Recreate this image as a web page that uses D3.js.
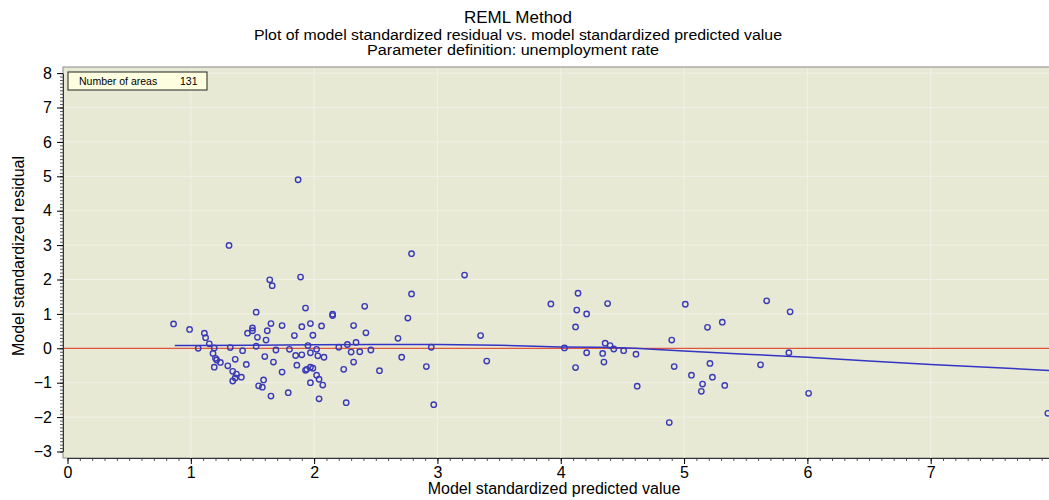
<!DOCTYPE html>
<html>
<head>
<meta charset="utf-8">
<script src="https://cdn.jsdelivr.net/npm/d3@7"></script>
<style>
	body { margin: 0; background: #ffffff; }
	text { font-family: "Liberation Sans", Arial, sans-serif; }
</style>
</head>
<body>
<script>
// model standardized predicted value (x) and residual (y), one per area
var predicted = [0.86, 0.99, 1.11, 1.12, 1.15, 1.06, 1.19, 1.18, 1.20, 1.21,
	1.24, 1.19, 1.30, 1.34, 1.37, 1.41, 1.36, 1.34, 1.32, 1.36,
	1.42, 1.45, 1.46, 1.50, 1.50, 1.53, 1.64, 1.66, 1.89, 1.54,
	1.53, 1.65, 1.62, 1.61, 1.60, 1.69, 1.67, 1.59, 1.55, 1.58,
	1.65, 1.74, 1.79, 1.74, 1.80, 1.84, 1.93, 1.90, 1.97, 1.99,
	2.06, 1.95, 2.02, 1.97, 2.03, 2.08, 1.85, 1.90, 1.86, 1.93,
	1.94, 1.97, 1.99, 2.02, 2.04, 1.97, 2.07, 2.04, 2.15, 2.15,
	2.20, 2.27, 2.24, 2.26, 2.41, 2.32, 2.42, 2.68, 2.34, 2.30,
	2.37, 2.46, 2.32, 2.53, 2.71, 2.76, 2.79, 3.22, 2.79, 2.95,
	2.91, 2.97, 3.35, 3.40, 1.87, 1.31, 3.92, 4.14, 4.13, 4.21,
	4.38, 4.12, 4.03, 4.21, 4.12, 4.36, 4.40, 4.43, 4.51, 4.34,
	4.35, 4.61, 4.62, 4.88, 4.90, 4.92, 5.01, 5.06, 5.15, 5.14,
	5.19, 5.21, 5.23, 5.31, 5.33, 5.62, 5.67, 5.86, 5.85, 6.01,
	7.95];

var residual = [0.71, 0.55, 0.44, 0.31, 0.13, 0.00, 0.01, -0.15, -0.29, -0.34,
	-0.41, -0.55, -0.51, -0.67, -0.75, -0.84, -0.86, -0.95, 0.02, -0.32,
	-0.07, -0.47, 0.44, 0.59, 0.51, 1.05, 1.99, 1.82, 2.07, 0.32,
	0.06, 0.72, 0.51, 0.24, -0.24, -0.05, -0.40, -0.92, -1.09, -1.13,
	-1.39, -0.69, -1.29, 0.66, -0.03, 0.37, 1.17, 0.63, 0.72, 0.38,
	0.65, 0.08, -0.03, -0.13, -0.22, -0.26, -0.21, -0.19, -0.49, -0.64,
	-0.61, -0.55, -0.58, -0.78, -0.90, -1.00, -1.07, -1.47, 0.99, 0.95,
	0.03, 0.11, -0.61, -1.58, 1.22, 0.66, 0.45, 0.29, 0.17, -0.11,
	-0.10, -0.05, -0.40, -0.65, -0.26, 0.88, 2.75, 2.13, 1.58, 0.03,
	-0.53, -1.64, 0.37, -0.37, 4.90, 2.99, 1.29, 1.60, 1.11, 1.00,
	1.30, 0.62, 0.01, -0.13, -0.56, 0.15, 0.08, -0.02, -0.07, -0.15,
	-0.40, -0.17, -1.10, -2.16, 0.24, -0.53, 1.28, -0.78, -1.04, -1.25,
	0.61, -0.44, -0.84, 0.76, -1.08, -0.48, 1.38, 1.06, -0.13, -1.31,
	-1.89];

// smoothed trend line
var fitX = [0.87, 1.0, 1.5, 2.0, 2.5, 3.0, 3.5, 4.0, 4.3, 4.4, 4.6, 5.0, 5.5, 6.0, 6.5, 7.0, 7.5, 8.0];
var fitY = [0.08, 0.08, 0.09, 0.10, 0.11, 0.11, 0.09, 0.04, 0.03, 0.02, 0.0, -0.08, -0.17, -0.26, -0.37, -0.47, -0.56, -0.65];

var xTicks = [0, 1, 2, 3, 4, 5, 6, 7, 8];
var xLabels = [0, 1, 2, 3, 4, 5, 6, 7];
var yTicks = [-3, -2, -1, 0, 1, 2, 3, 4, 5, 6, 7, 8];

var titles = ["REML Method",
	"Plot of model standardized residual vs. model standardized predicted value",
	"Parameter definition: unemployment rate"];

function main(){
	var w = 1049;
	var h = 500;

	var svg = d3.select("body")
				.append("svg")
				.attr("width", w)
				.attr("height", h);

	var x = d3.scaleLinear().domain([0, 8]).range([67.5, 1054]);
	var y = d3.scaleLinear().domain([-3, 8]).range([451.5, 73.1]);

	var left = 63, right = 1054, top = 67, bottom = 458;

	// plot background
	svg.append("rect")
		.attr("x", left)
		.attr("y", top)
		.attr("width", right - left)
		.attr("height", bottom - top)
		.attr("fill", "#e7e9d4")
		.attr("stroke", "#8a8a8a");

	// grid
	svg.append("g").selectAll("line")
		.data(xTicks.slice(1))
		.enter().append("line")
		.attr("x1", function(d){ return x(d); })
		.attr("x2", function(d){ return x(d); })
		.attr("y1", top + 1)
		.attr("y2", bottom)
		.attr("stroke", "#f1f2e7");

	svg.append("g").selectAll("line")
		.data(yTicks.slice(1))
		.enter().append("line")
		.attr("x1", left + 1)
		.attr("x2", right)
		.attr("y1", function(d){ return y(d); })
		.attr("y2", function(d){ return y(d); })
		.attr("stroke", "#f1f2e7");

	// zero line
	svg.append("line")
		.attr("x1", left + 1)
		.attr("x2", right)
		.attr("y1", y(0))
		.attr("y2", y(0))
		.attr("stroke", "#e0553c")
		.attr("stroke-width", 1.2);

	// trend line
	var line = d3.line()
		.x(function(d){ return x(d[0]); })
		.y(function(d){ return y(d[1]); });

	svg.append("path")
		.datum(fitX.map(function(d, i){ return [d, fitY[i]]; }))
		.attr("d", line)
		.attr("fill", "none")
		.attr("stroke", "#3434c4")
		.attr("stroke-width", 1.5);

	// points
	svg.append("g").selectAll("circle")
		.data(predicted)
		.enter().append("circle")
		.attr("cx", function(d){ return x(d); })
		.attr("cy", function(d, i){ return y(residual[i]); })
		.attr("r", 2.7)
		.attr("fill", "none")
		.attr("stroke", "#3a3ab8")
		.attr("stroke-width", 1.4);

	// axes with minor ticks
	var yMinor = d3.range(-30, 81).map(function(d){ return d / 10; });
	var xMinor = d3.range(0, 81).map(function(d){ return d / 10; });

	svg.append("g")
		.attr("transform", "translate(" + left + ",0)")
		.call(d3.axisLeft(y).tickValues(yMinor).tickSize(3).tickFormat(""))
		.call(function(g){ g.select(".domain").remove(); })
		.selectAll("line").attr("stroke", "#555");

	svg.append("g")
		.attr("transform", "translate(0," + bottom + ")")
		.call(d3.axisBottom(x).tickValues(xMinor).tickSize(3).tickFormat(""))
		.call(function(g){ g.select(".domain").remove(); })
		.selectAll("line").attr("stroke", "#555");

	var yAxis = svg.append("g")
		.attr("transform", "translate(" + left + ",0)")
		.call(d3.axisLeft(y).tickValues(yTicks).tickSize(6).tickSizeOuter(0).tickPadding(5));
	yAxis.selectAll("text").attr("font-size", 16).attr("font-family", "Liberation Sans, Arial, sans-serif").attr("fill", "#000");

	var xAxis = svg.append("g")
		.attr("transform", "translate(0," + bottom + ")")
		.call(d3.axisBottom(x).tickValues(xTicks).tickSize(6).tickSizeOuter(0).tickPadding(3)
			.tickFormat(function(d){ return xLabels.indexOf(d) >= 0 ? d : ""; }));
	xAxis.selectAll("text").attr("font-size", 16).attr("font-family", "Liberation Sans, Arial, sans-serif").attr("fill", "#000");

	svg.selectAll(".domain").attr("stroke", "#333");

	// titles
	svg.append("text")
		.text(titles[0])
		.attr("x", 518)
		.attr("y", 23)
		.attr("text-anchor", "middle")
		.attr("font-size", 17);

	svg.append("text")
		.text(titles[1])
		.attr("x", 518)
		.attr("y", 40)
		.attr("text-anchor", "middle")
		.attr("font-size", 14)
		.attr("textLength", 528)
		.attr("lengthAdjust", "spacingAndGlyphs");

	svg.append("text")
		.text(titles[2])
		.attr("x", 513)
		.attr("y", 55)
		.attr("text-anchor", "middle")
		.attr("font-size", 14)
		.attr("textLength", 292)
		.attr("lengthAdjust", "spacingAndGlyphs");

	svg.append("text")
		.text("Model standardized predicted value")
		.attr("x", 554)
		.attr("y", 494)
		.attr("text-anchor", "middle")
		.attr("font-size", 16);

	svg.append("text")
		.text("Model standardized residual")
		.attr("transform", "translate(24,256) rotate(-90)")
		.attr("text-anchor", "middle")
		.attr("font-size", 16);

	// legend box
	svg.append("rect")
		.attr("x", 68)
		.attr("y", 72)
		.attr("width", 139)
		.attr("height", 18)
		.attr("fill", "#fdfddf")
		.attr("stroke", "#222");

	svg.append("text")
		.text("Number of areas")
		.attr("x", 79)
		.attr("y", 85)
		.attr("font-size", 10.5);

	svg.append("text")
		.text(predicted.length)
		.attr("x", 180)
		.attr("y", 85)
		.attr("font-size", 10.5);
}

main();
</script>
</body>
</html>
